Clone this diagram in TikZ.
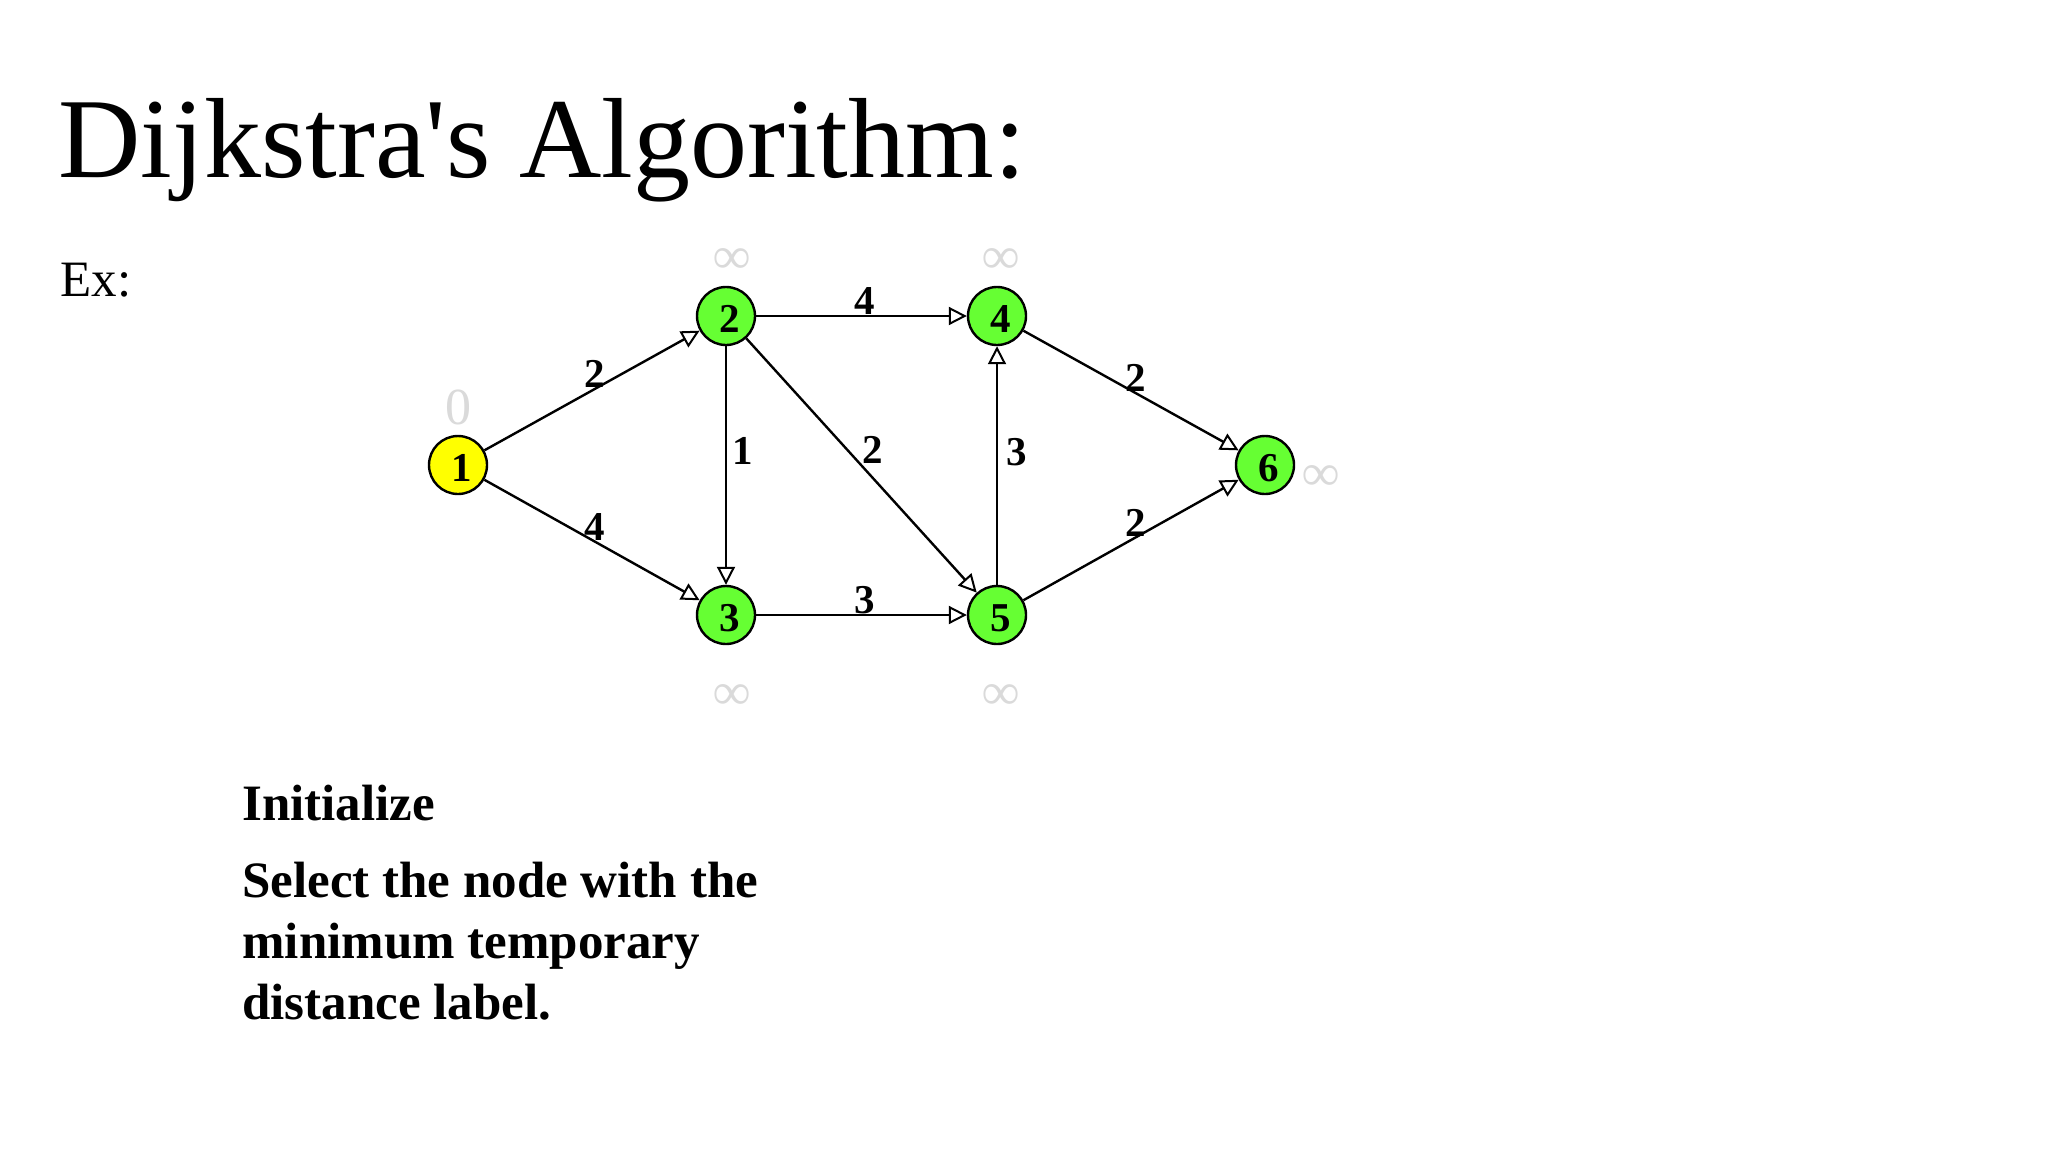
\documentclass[tikz,border=0pt]{standalone}
\usepackage{fontspec}
\setmainfont{Liberation Serif}
\usetikzlibrary{arrows.meta}
\definecolor{nodegreen}{RGB}{102,255,51}
\definecolor{nodeyellow}{RGB}{255,255,0}
\definecolor{distgray}{RGB}{218,218,218}
\newcommand{\nd}[1]{\kern4pt\raisebox{-1.5pt}[\height][0pt]{#1}}
\begin{document}
\begin{tikzpicture}[x=0.5pt,y=-0.5pt,
  vtx/.style={circle,draw=black,line width=1.2pt,minimum size=29pt,inner sep=0pt,
    font=\fontsize{20.5}{20.5}\selectfont\bfseries},
  conn/.style={line width=1.2pt,-{Triangle[length=9pt,width=9pt,fill=white,line width=1pt]}},
  wlab/.style={font=\fontsize{20.5}{20.5}\selectfont\bfseries,inner sep=0pt},
  distlab/.style={text=distgray,font=\fontsize{26}{26}\selectfont,inner sep=0pt},
  inflab/.style={text=distgray,font=\fontsize{26}{26}\selectfont\bfseries,inner sep=0pt},
  bodytext/.style={font=\fontsize{25.5}{30}\selectfont\bfseries,anchor=base west,inner sep=0pt}]
\useasboundingbox[fill=white] (0,0) rectangle (2048,1152);

% title and texts
\node[anchor=base west,inner sep=0pt,font=\fontsize{57}{57}\selectfont] (title) at (58,177) {Dijkstra\textquotesingle s Algorithm:};
\node[anchor=base west,inner sep=0pt,font=\fontsize{25.5}{25.5}\selectfont] (ex) at (60,296) {Ex:};
\node[bodytext] (init) at (242,820) {Initialize};
\node[bodytext] (sel1) at (242,897) {Select the node with the};
\node[bodytext] (sel2) at (242,958) {minimum temporary};
\node[bodytext] (sel3) at (242,1019) {distance label.};

% vertices
\node[vtx,fill=nodeyellow] (n1) at (458,465) {\nd{1}};
\node[vtx,fill=nodegreen] (n2) at (726,316) {\nd{2}};
\node[vtx,fill=nodegreen] (n3) at (726,615) {\nd{3}};
\node[vtx,fill=nodegreen] (n4) at (997,316) {\nd{4}};
\node[vtx,fill=nodegreen] (n5) at (997,615) {\nd{5}};
\node[vtx,fill=nodegreen] (n6) at (1265,465) {\nd{6}};

% distance labels
\node[distlab] (d1) at (458,407) {0};
\node[inflab] (d2) at (732,261) {∞};
\node[inflab] (d4) at (1001,261) {∞};
\node[inflab] (d3) at (732,697) {∞};
\node[inflab] (d5) at (1001,697) {∞};
\node[inflab] (d6) at (1321,478) {∞};

% edges
\draw[conn] (n1) -- node[wlab,pos=0.513,anchor=south] (w12) {2} (n2);
\draw[conn] (n1) -- node[wlab,pos=0.513,anchor=south] (w13) {4} (n3);
\draw[conn] (n2) -- node[wlab,pos=0.516,anchor=south] (w24) {4} (n4);
\draw[conn] (n2) -- node[wlab,pos=0.44,anchor=west,xshift=2.5pt] (w23) {1} (n3);
\draw[conn] (n2) -- node[wlab,pos=0.497,anchor=south west] (w25) {2} (n5);
\draw[conn] (n3) -- node[wlab,pos=0.516,anchor=south] (w35) {3} (n5);
\draw[conn] (n5) -- node[wlab,pos=0.558,anchor=west,xshift=4pt] (w54) {3} (n4);
\draw[conn] (n4) -- node[wlab,pos=0.521,anchor=south] (w46) {2} (n6);
\draw[conn] (n5) -- node[wlab,pos=0.521,anchor=south] (w56) {2} (n6);
\end{tikzpicture}
\end{document}
